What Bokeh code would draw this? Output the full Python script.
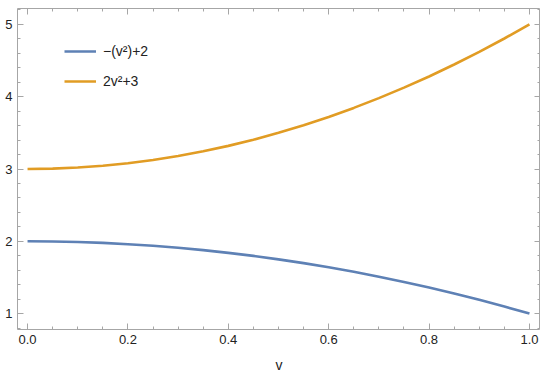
from bokeh.plotting import figure
from bokeh.models import LinearAxis, Range1d, Legend, LegendItem, CustomJSTickFormatter, BasicTicker, NumeralTickFormatter
from bokeh.embed import file_html
from bokeh.resources import INLINE

v = [0.0, 0.05, 0.1, 0.15, 0.2, 0.25, 0.3, 0.35, 0.4, 0.45, 0.5,
     0.55, 0.6, 0.65, 0.7, 0.75, 0.8, 0.85, 0.9, 0.95, 1.0]
blue_vals = [2.0, 1.998, 1.99, 1.978, 1.96, 1.938, 1.91, 1.878, 1.84, 1.798, 1.75,
             1.698, 1.64, 1.578, 1.51, 1.438, 1.36, 1.278, 1.19, 1.098, 1.0]
orange_vals = [3.0, 3.005, 3.02, 3.045, 3.08, 3.125, 3.18, 3.245, 3.32, 3.405, 3.5,
               3.605, 3.72, 3.845, 3.98, 4.125, 4.28, 4.445, 4.62, 4.805, 5.0]
labels = ["\u2212(v\u00b2)+2", "2v\u00b2+3"]
x_label = "v"

FONT = "Liberation Sans"
GRAY = "#a6a6a6"

p = figure(frame_width=523, frame_height=321, output_backend="svg", toolbar_location=None,
           x_range=Range1d(-0.02, 1.022), y_range=Range1d(0.78, 5.22),
           min_border_left=17, min_border_right=0, min_border_top=8, min_border_bottom=0)
p.xgrid.visible = False
p.ygrid.visible = False
p.outline_line_color = GRAY
p.outline_line_width = 1
p.background_fill_color = "white"
p.border_fill_color = "white"

def style(ax, labels_on=True):
    ax.axis_line_color = None
    ax.major_tick_line_color = GRAY
    ax.minor_tick_line_color = GRAY
    ax.major_tick_in = 6
    ax.major_tick_out = 0
    ax.minor_tick_in = 3
    ax.minor_tick_out = 0
    ax.major_label_text_font = FONT
    ax.major_label_text_font_size = "13px"
    ax.major_label_text_color = "#222222"
    if not labels_on:
        ax.formatter = CustomJSTickFormatter(code="return '';")
        ax.major_label_standoff = 0

p.xaxis.ticker = BasicTicker(desired_num_ticks=6, num_minor_ticks=4)
p.yaxis.ticker = BasicTicker(desired_num_ticks=5, num_minor_ticks=5)
style(p.xaxis[0])
style(p.yaxis[0])
p.xaxis.formatter = NumeralTickFormatter(format="0.0")
p.xaxis.major_label_standoff = 5
p.yaxis.major_label_standoff = 5
p.xaxis.axis_label = x_label
p.xaxis.axis_label_text_font = FONT
p.xaxis.axis_label_text_font_style = "normal"
p.xaxis.axis_label_text_font_size = "14px"
p.xaxis.axis_label_text_color = "#222222"
p.xaxis.axis_label_standoff = 10

top = LinearAxis(ticker=BasicTicker(desired_num_ticks=6, num_minor_ticks=4))
style(top, False)
p.add_layout(top, "above")
right = LinearAxis(ticker=BasicTicker(desired_num_ticks=5, num_minor_ticks=5))
style(right, False)
p.add_layout(right, "right")

r1 = p.line(v, blue_vals, line_color="#5e81b5", line_width=2.6)
r2 = p.line(v, orange_vals, line_color="#e19c24", line_width=2.6)

legend = Legend(items=[LegendItem(label=labels[0], renderers=[r1]),
                       LegendItem(label=labels[1], renderers=[r2])],
                location=(47, 240), padding=0, margin=0, border_line_color=None,
                background_fill_alpha=0, glyph_width=32, glyph_height=16,
                label_height=16, label_standoff=7, spacing=14,
                label_text_font=FONT, label_text_font_size="14px",
                label_text_color="#222222")
p.add_layout(legend, "center")

open("out.html", "w").write(file_html(p, INLINE))
